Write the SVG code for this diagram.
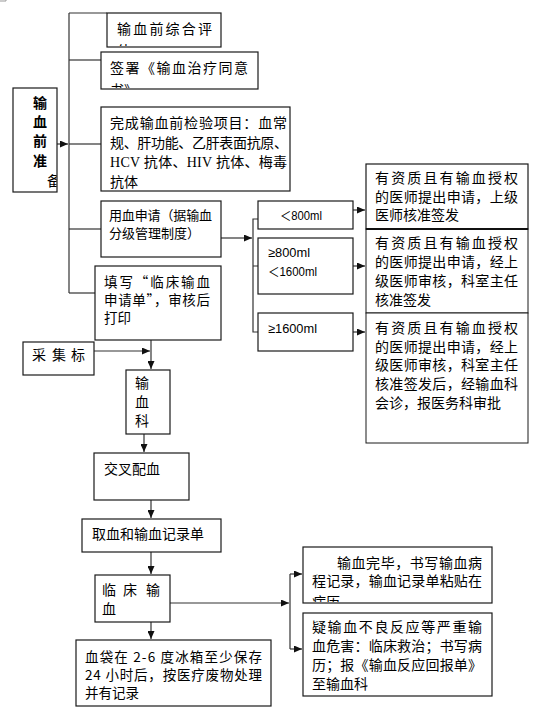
<svg xmlns="http://www.w3.org/2000/svg" width="551" height="713" viewBox="0 0 551 713">
<style>
.box{fill:#fff;stroke:#1a1a1a;stroke-width:1.2}
.ln{fill:none;stroke:#333;stroke-width:1.2}
.t{font-family:"Noto Sans CJK SC","Liberation Sans",sans-serif;font-size:14px;fill:#000}
.s{font-size:13px}
.m{font-size:13.5px}
.b{font-weight:bold}
.n{font-family:"Liberation Sans","Noto Sans CJK SC",sans-serif;font-size:13px;fill:#000}
.sf{font-family:"Liberation Serif",serif}
</style>
<defs>
<marker id="ah" markerUnits="userSpaceOnUse" markerWidth="8" markerHeight="7" refX="8" refY="3.5" orient="auto">
<path d="M0,0 L8,3.5 L0,7 z" fill="#111"/>
</marker>
<clipPath id="c1"><rect x="108" y="14" width="112" height="32"/></clipPath>
<clipPath id="c2"><rect x="102" y="53" width="155" height="35"/></clipPath>
<clipPath id="c0"><rect x="14" y="89" width="42.5" height="102"/></clipPath>
<clipPath id="c5"><rect x="24" y="343" width="69" height="31"/></clipPath>
<clipPath id="cA"><rect x="304" y="548" width="187" height="54"/></clipPath>
</defs>
<path d="M0,1 H6 V0" fill="none" stroke="#999" stroke-width="1"/>
<g id="connectors">
<line class="ln" x1="57" y1="144" x2="68" y2="144" marker-end="url(#ah)"/>
<line class="ln" x1="69" y1="13" x2="69" y2="293"/>
<line class="ln" x1="69" y1="13" x2="107" y2="13"/>
<line class="ln" x1="69" y1="60" x2="101" y2="60"/>
<line class="ln" x1="69" y1="144" x2="101" y2="144"/>
<line class="ln" x1="69" y1="229" x2="101" y2="229"/>
<line class="ln" x1="69" y1="293" x2="95" y2="293"/>
<line class="ln" x1="221" y1="238" x2="252" y2="238" marker-end="url(#ah)"/>
<path class="ln" d="M259,219 H253 V332 H259 M253,266 H259"/>
<line class="ln" x1="353" y1="210" x2="365" y2="210" marker-end="url(#ah)"/>
<line class="ln" x1="353" y1="266" x2="365" y2="266" marker-end="url(#ah)"/>
<line class="ln" x1="353" y1="332" x2="365" y2="332" marker-end="url(#ah)"/>
<line class="ln" x1="94" y1="351" x2="150" y2="351" marker-end="url(#ah)"/>
<line class="ln" x1="151" y1="340" x2="151" y2="369" marker-end="url(#ah)"/>
<line class="ln" x1="144" y1="434" x2="144" y2="452" marker-end="url(#ah)"/>
<line class="ln" x1="151" y1="500" x2="151" y2="518" marker-end="url(#ah)"/>
<line class="ln" x1="151" y1="552" x2="151" y2="574" marker-end="url(#ah)"/>
<line class="ln" x1="151" y1="622" x2="151" y2="639" marker-end="url(#ah)"/>
<line class="ln" x1="170" y1="603" x2="289" y2="603" marker-end="url(#ah)"/>
<path class="ln" d="M290,574 V649"/>
<line class="ln" x1="290" y1="574" x2="302" y2="574" marker-end="url(#ah)"/>
<line class="ln" x1="290" y1="649" x2="302" y2="649" marker-end="url(#ah)"/>
</g>
<g id="n-prep">
<rect class="box" x="13" y="88" width="44" height="104"/>
<g clip-path="url(#c0)">
<text class="t b" x="33" y="108">输</text>
<text class="t b" x="33" y="127">血</text>
<text class="t b" x="33" y="146">前</text>
<text class="t b" x="33" y="166">准</text>
<text class="t" x="47" y="186">备</text>
</g>
</g>
<g id="n-eval">
<rect class="box" x="107" y="13" width="114" height="34"/>
<g clip-path="url(#c1)">
<text class="t" x="117" y="34" textLength="95" lengthAdjust="spacing">输血前综合评</text>
<text class="t" x="117" y="56">估</text>
</g>
</g>
<g id="n-consent">
<rect class="box" x="101" y="52" width="157" height="37"/>
<g clip-path="url(#c2)">
<text class="t" x="110" y="73" textLength="138" lengthAdjust="spacing">签署《输血治疗同意</text>
<text class="t" x="110" y="95">书》</text>
</g>
</g>
<g id="n-tests">
<rect class="box" x="101" y="107" width="189" height="84"/>
<text class="t" x="110" y="128" textLength="177" lengthAdjust="spacing">完成输血前检验项目：血常</text>
<text class="t" x="110" y="148" textLength="178" lengthAdjust="spacing">规、肝功能、乙肝表面抗原、</text>
<text class="t" x="110" y="167" textLength="177" lengthAdjust="spacing"><tspan class="sf">HCV</tspan> 抗体、<tspan class="sf">HIV</tspan> 抗体、梅毒</text>
<text class="t" x="110" y="187">抗体</text>
</g>
<g id="n-apply">
<rect class="box" x="101" y="201" width="120" height="56"/>
<text class="t s" x="109" y="220" textLength="103" lengthAdjust="spacing">用血申请（据输血</text>
<text class="t s" x="109" y="238">分级管理制度）</text>
</g>
<g id="n-lt800">
<rect class="box" x="258" y="201" width="95" height="28"/>
<text class="n" x="280" y="220" textLength="42" lengthAdjust="spacingAndGlyphs">＜800ml</text>
</g>
<g id="n-800-1600">
<rect class="box" x="258" y="238" width="95" height="56"/>
<text class="n" x="268" y="257" textLength="42" lengthAdjust="spacingAndGlyphs">≥800ml</text>
<text class="n" x="268" y="276" textLength="49" lengthAdjust="spacingAndGlyphs">＜1600ml</text>
</g>
<g id="n-ge1600">
<rect class="box" x="258" y="313" width="95" height="38"/>
<text class="n" x="268" y="333" textLength="49" lengthAdjust="spacingAndGlyphs">≥1600ml</text>
</g>
<g id="n-r1">
<rect class="box" x="366" y="164" width="162" height="65"/>
<text class="t" x="375" y="183" textLength="143" lengthAdjust="spacing">有资质且有输血授权</text>
<text class="t" x="375" y="202" textLength="143" lengthAdjust="spacing">的医师提出申请，上级</text>
<text class="t" x="375" y="220">医师核准签发</text>
</g>
<g id="n-r2">
<rect class="box" x="366" y="229" width="162" height="84" style="stroke-width:1"/>
<line x1="366" y1="229" x2="528" y2="229" stroke="#111" stroke-width="2"/>
<text class="t" x="375" y="248" textLength="143" lengthAdjust="spacing">有资质且有输血授权</text>
<text class="t" x="375" y="267" textLength="143" lengthAdjust="spacing">的医师提出申请，经上</text>
<text class="t" x="375" y="286" textLength="143" lengthAdjust="spacing">级医师审核，科室主任</text>
<text class="t" x="375" y="305">核准签发</text>
</g>
<g id="n-r3">
<rect class="box" x="366" y="313" width="162" height="130" style="stroke-width:1"/>
<text class="t" x="375" y="333" textLength="143" lengthAdjust="spacing">有资质且有输血授权</text>
<text class="t" x="375" y="352" textLength="143" lengthAdjust="spacing">的医师提出申请，经上</text>
<text class="t" x="375" y="370" textLength="143" lengthAdjust="spacing">级医师审核，科室主任</text>
<text class="t" x="375" y="389" textLength="143" lengthAdjust="spacing">核准签发后，经输血科</text>
<text class="t" x="375" y="408">会诊，报医务科审批</text>
</g>
<g id="n-form">
<rect class="box" x="95" y="266" width="126" height="74"/>
<text class="t m" x="104" y="287" textLength="106" lengthAdjust="spacing">填写“临床输血</text>
<text class="t m" x="104" y="305" textLength="106" lengthAdjust="spacing">申请单”，审核后</text>
<text class="t m" x="104" y="323">打印</text>
</g>
<g id="n-sample">
<rect class="box" x="23" y="342" width="71" height="33"/>
<g clip-path="url(#c5)">
<text class="t" x="32" y="360">采</text>
<text class="t" x="52" y="360">集</text>
<text class="t" x="71" y="360">标</text>
<text class="t" x="32" y="386">本</text>
</g>
</g>
<g id="n-bank">
<rect class="box" x="126" y="370" width="44" height="64"/>
<text class="t" x="135" y="388">输</text>
<text class="t" x="135" y="407">血</text>
<text class="t" x="135" y="426">科</text>
</g>
<g id="n-cross">
<rect class="box" x="94" y="453" width="95" height="47"/>
<text class="t" x="104" y="474">交叉配血</text>
</g>
<g id="n-fetch">
<rect class="box" x="82" y="519" width="139" height="33"/>
<text class="t" x="92" y="539">取血和输血记录单</text>
</g>
<g id="n-transfuse">
<rect class="box" x="95" y="575" width="75" height="47"/>
<text class="t" x="102" y="595">临</text>
<text class="t" x="123" y="595">床</text>
<text class="t" x="146" y="595">输</text>
<text class="t" x="102" y="614">血</text>
</g>
<g id="n-bag">
<rect class="box" x="76" y="640" width="195" height="66"/>
<text class="t m" x="85" y="662" textLength="177" lengthAdjust="spacing">血袋在 2-6 度冰箱至少保存</text>
<text class="t m" x="85" y="680" textLength="177" lengthAdjust="spacing">24 小时后，按医疗废物处理</text>
<text class="t m" x="85" y="698">并有记录</text>
</g>
<g id="n-done">
<rect class="box" x="303" y="547" width="189" height="56"/>
<g clip-path="url(#cA)">
<text class="t" x="337" y="568" textLength="145" lengthAdjust="spacing">输血完毕，书写输血病</text>
<text class="t" x="312" y="586" textLength="170" lengthAdjust="spacing">程记录，输血记录单粘贴在</text>
<text class="t" x="312" y="607">病历</text>
</g>
</g>
<g id="n-reaction">
<rect class="box" x="303" y="613" width="189" height="83"/>
<text class="t" x="312" y="632" textLength="170" lengthAdjust="spacing">疑输血不良反应等严重输</text>
<text class="t" x="312" y="651" textLength="170" lengthAdjust="spacing">血危害：临床救治；书写病</text>
<text class="t" x="312" y="670" textLength="170" lengthAdjust="spacing">历；报《输血反应回报单》</text>
<text class="t" x="312" y="689">至输血科</text>
</g>
</svg>
